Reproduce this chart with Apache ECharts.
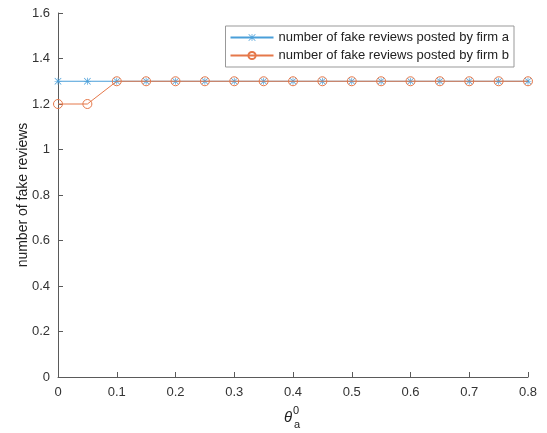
<!DOCTYPE html>
<html><head><meta charset="utf-8">
<script src="https://cdn.jsdelivr.net/npm/echarts@6/dist/echarts.min.js"></script>
<style>html,body{margin:0;padding:0;background:#fff}#c{width:547px;height:433px}</style>
</head><body><div id="c"></div>
<script>
const xValues = [0,0.05,0.1,0.15,0.2,0.25,0.3,0.35,0.4,0.45,0.5,0.55,0.6,0.65,0.7,0.75,0.8];
const firmA = [1.3,1.3,1.3,1.3,1.3,1.3,1.3,1.3,1.3,1.3,1.3,1.3,1.3,1.3,1.3,1.3,1.3];
const firmB = [1.2,1.2,1.3,1.3,1.3,1.3,1.3,1.3,1.3,1.3,1.3,1.3,1.3,1.3,1.3,1.3,1.3];
const seriesNames = ['number of fake reviews posted by firm a','number of fake reviews posted by firm b'];
const yLabel = 'number of fake reviews';

const star = 'path://M0 4.5H10V5.5H0Z M4.5 0H5.5V10H4.5Z M0.7 0L10 9.3L9.3 10L0 0.7Z M9.3 0L10 0.7L0.7 10L0 9.3Z';
const font = 'Liberation Sans, Arial, Helvetica, sans-serif';
const blue = '#4a9fd9', orange = '#e5784a';
const chart = echarts.init(document.getElementById('c'));
const axisCommon = {
  axisLine:{show:true,onZero:false,lineStyle:{color:'#5a5a5a',width:1}},
  axisTick:{show:true,inside:true,length:5,lineStyle:{color:'#5a5a5a'}},
  splitLine:{show:false},
  axisLabel:{color:'#333',fontSize:13,fontFamily:font}
};
chart.setOption({
  animation:false,
  grid:{left:58,right:19,top:13,bottom:56},
  xAxis:Object.assign({type:'value',min:0,max:0.8,interval:0.1},axisCommon,{axisLabel:Object.assign({},axisCommon.axisLabel,{margin:9})}),
  yAxis:Object.assign({type:'value',min:0,max:1.6,interval:0.2,name:yLabel,nameLocation:'middle',nameGap:28,nameMoveOverlap:false,
    nameTextStyle:{color:'#222',fontSize:14,fontFamily:font}},axisCommon,{axisLabel:Object.assign({},axisCommon.axisLabel,{margin:8})}),
  legend:{
    right:33,top:26,orient:'vertical',itemGap:5,itemWidth:43,itemHeight:9,
    padding:[5,5,5,4],
    borderColor:'#999',borderWidth:1,borderRadius:0,backgroundColor:'#fff',
    textStyle:{fontSize:13,color:'#222',fontFamily:font}
  },
  series:[
    {name:seriesNames[0],type:'line',data:xValues.map((x,i)=>[x,firmA[i]]),
     symbol:star,symbolSize:7,itemStyle:{color:blue},lineStyle:{color:blue,width:1},z:2},
    {name:seriesNames[1],type:'line',data:xValues.map((x,i)=>[x,firmB[i]]),
     symbol:'circle',symbolSize:9,itemStyle:{color:'rgba(255,255,255,0)',borderColor:orange,borderWidth:1},lineStyle:{color:orange,width:1},z:3}
  ],
  graphic:[
    {type:'text',left:284,top:410,style:{text:'θ',font:'italic 15px '+font,fill:'#222'}},
    {type:'text',left:293,top:405,style:{text:'0',font:'11px '+font,fill:'#222'}},
    {type:'text',left:294,top:419,style:{text:'a',font:'11px '+font,fill:'#222'}}
  ]
});
</script></body></html>
